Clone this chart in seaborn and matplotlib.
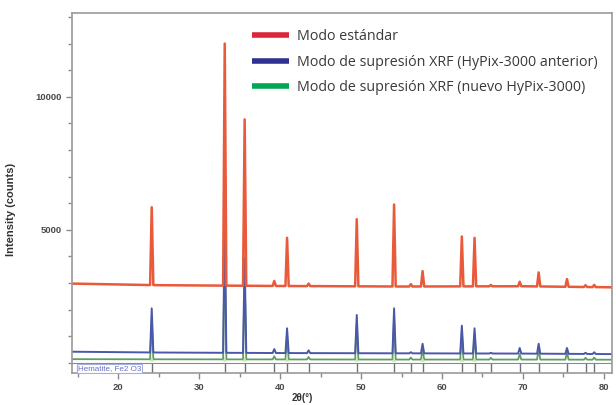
import numpy as np
import matplotlib
matplotlib.use("Agg")
import matplotlib.pyplot as plt
import seaborn as sns
from matplotlib.lines import Line2D
from matplotlib.ticker import MultipleLocator

# Hematite reflections (2theta, degrees)
peak_pos = [24.14, 33.16, 35.62, 39.28, 40.86, 43.52, 49.47, 54.08, 56.15,
            57.60, 62.45, 64.02, 66.03, 69.60, 71.94, 75.44, 77.73, 78.80]

# peak tops (counts)
red_peaks = [5850, 12000, 9150, 3080, 4700, 2980, 5400, 5950, 2960,
             3450, 4750, 4700, 2930, 3050, 3400, 3150, 2920, 2930]
blue_peaks = [2050, 5500, 3950, 520, 1300, 470, 1800, 2050, 400,
              720, 1400, 1300, 380, 560, 720, 560, 380, 400]
green_peaks = [1650, 4700, 3350, 250, 1050, 220, 1500, 1700, 200,
               520, 1150, 1080, 190, 330, 520, 400, 190, 200]

# baselines (x, counts)
base_x = [14.3, 25, 40, 55, 70, 81]
red_base = [2980, 2920, 2890, 2870, 2880, 2840]
blue_base = [420, 390, 370, 360, 350, 330]
green_base = [140, 135, 130, 125, 125, 120]

# triangles marking the matched peaks on the lowest pattern
marker_pos = [24.14, 33.16, 35.62, 40.86, 49.47, 54.08, 57.60, 62.45, 64.02]

legend_labels = ["Modo estándar",
                 "Modo de supresión XRF (HyPix-3000 anterior)",
                 "Modo de supresión XRF (nuevo HyPix-3000)"]
legend_colors = ["#d9263a", "#2e3192", "#00a651"]


def pattern(bx, by, pos, tops, hw=0.2):
    # baseline vertices with narrow triangular peaks on top
    xs = list(bx)
    ys = list(by)
    for p, t in zip(pos, tops):
        b = float(np.interp(p, bx, by))
        xs += [p - hw, p, p + hw]
        ys += [b, max(t, b), b]
    order = np.argsort(xs, kind="stable")
    return np.array(xs)[order], np.array(ys)[order]


sns.set_style("ticks")
plt.rcParams['font.family'] = ['Liberation Sans', 'DejaVu Sans']

fig = plt.figure(figsize=(6.16, 4.05), dpi=100)
ax = fig.add_axes([0.117, 0.079, 0.8765, 0.889])

gx, gy = pattern(base_x, green_base, peak_pos, green_peaks)
sns.lineplot(x=gx, y=gy, ax=ax, color="#5e9e62", lw=1.3, sort=False, estimator=None)
bx_, by_ = pattern(base_x, blue_base, peak_pos, blue_peaks)
sns.lineplot(x=bx_, y=by_, ax=ax, color="#4b57a8", lw=1.4, sort=False, estimator=None)
rx, ry = pattern(base_x, red_base, peak_pos, red_peaks)
sns.lineplot(x=rx, y=ry, ax=ax, color="#e85a3a", lw=1.8, sort=False, estimator=None)

# peak markers
ax.scatter(marker_pos, [np.interp(p, base_x, green_base) for p in marker_pos],
           marker="^", s=10, color="#c8e6b0", edgecolor="none", zorder=4)

# reference stick pattern strip
ymin = -380
ax.vlines(peak_pos, ymin, -20, color="#6f6f80", lw=1.0)
ax.axhline(-20, color="#8a8a8a", lw=0.8)
ax.text(15.0, -200, "Hematite, Fe2 O3", fontsize=5.8, color="#6a70c0",
        va="center", ha="left",
        bbox=dict(boxstyle="square,pad=0.12", fc="white", ec="#a8aee0", lw=0.8))

ax.set_xlim(14.3, 81)
ax.set_ylim(ymin, 13150)
ax.xaxis.set_major_locator(MultipleLocator(10))
ax.xaxis.set_minor_locator(MultipleLocator(5))
ax.yaxis.set_major_locator(MultipleLocator(5000))
ax.yaxis.set_minor_locator(MultipleLocator(1000))
ax.set_xticks([20, 30, 40, 50, 60, 70, 80])
ax.set_yticks([5000, 10000])

for s in ax.spines.values():
    s.set_color("#9a9a9a")
    s.set_linewidth(1.2)
ax.tick_params(which="both", direction="out", color="#8a8a8a", labelsize=6.8,
               labelcolor="#4a4a4a", width=1.0)
ax.tick_params(which="major", length=4)
ax.tick_params(which="minor", length=3)
for lab in ax.get_xticklabels() + ax.get_yticklabels():
    lab.set_fontweight("bold")

ax.set_xlabel("2θ(°)", fontsize=7, fontweight="bold", color="#333333")
ax.xaxis.set_label_coords(0.426, -0.055)
ax.set_ylabel("Intensity (counts)", fontsize=8, fontweight="bold", color="#333333")
ax.yaxis.set_label_coords(-0.104, 0.453)

handles = [Line2D([0], [0], color=c, lw=4, solid_capstyle="butt") for c in legend_colors]
leg = ax.legend(handles, legend_labels, loc="upper left", bbox_to_anchor=(0.309, 0.99),
                frameon=False, handlelength=2.6, handletextpad=0.58, labelspacing=0.72,
                prop={"family": "Open Sans", "size": 10.3})
for t in leg.get_texts():
    t.set_color("#3a3a3a")

fig.savefig("out.png", dpi=100)
